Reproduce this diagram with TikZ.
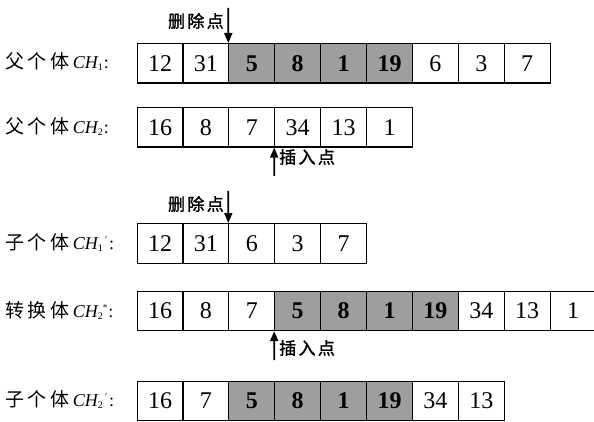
\documentclass[tikz,border=0pt]{standalone}
\usepackage{fontspec}
\setmainfont{Liberation Serif}
\newfontfamily\cjk[LetterSpace=20]{Noto Sans CJK SC}
\newfontfamily\cjkb[LetterSpace=14,FakeBold=1.6]{Noto Sans CJK SC}
\usetikzlibrary{arrows.meta}
\definecolor{c0}{gray}{1}
\definecolor{c1}{gray}{0.62}
\tikzset{
  cell/.style={draw, line width=1.1pt, minimum width=45.9pt, minimum height=39.5pt,
    anchor=north west, inner sep=0pt, font=\fontsize{24}{24}\selectfont},
  lab/.style={anchor=west, inner sep=0pt, font=\fontsize{18}{18}\selectfont},
  ptlab/.style={inner sep=0pt, font=\cjkb\fontsize{17}{17}\selectfont},
  arr/.style={line width=1.8pt, -{Triangle[length=10pt,width=8pt]}}
}
\newcommand\lbl[3]{{\cjk\fontsize{19}{19}\selectfont #1}\hspace{3pt}{\itshape CH}\raisebox{-2pt}{\fontsize{10}{10}\selectfont #2}#3\hspace{1pt}:}
\begin{document}
\begin{tikzpicture}[x=1pt,y=-1pt]
\useasboundingbox (0,0) rectangle (594,422);
\clip (0,0) rectangle (594,422);
% row 1
\node[lab] (l1) at (5,62) {\lbl{父个体}{1}{}};
\foreach \v/\b [count=\i] in {12/0,31/0,5/1,8/1,1/1,19/1,6/0,3/0,7/0}
  \node[cell, fill=c\b] (r1c\i) at ({136.5+(\i-1)*45.9},43) {\ifnum\b=1 \bfseries\fi\v};
% row 2
\node[lab] (l2) at (5,127) {\lbl{父个体}{2}{}};
\foreach \v/\b [count=\i] in {16/0,8/0,7/0,34/0,13/0,1/0}
  \node[cell, fill=c\b] (r2c\i) at ({136.5+(\i-1)*45.9},107) {\v};
% row 3
\node[lab] (l3) at (5,243) {\lbl{子个体}{1}{\textsuperscript{\,\fontsize{9}{9}\selectfont$'$}}};
\foreach \v/\b [count=\i] in {12/0,31/0,6/0,3/0,7/0}
  \node[cell, fill=c\b] (r3c\i) at ({136.5+(\i-1)*45.9},223) {\v};
% row 4
\node[lab] (l4) at (5,310) {\lbl{转换体}{2}{\raisebox{7pt}{\fontsize{9}{9}\selectfont *}}};
\foreach \v/\b [count=\i] in {16/0,8/0,7/0,5/1,8/1,1/1,19/1,34/0,13/0,1/0}
  \node[cell, fill=c\b] (r4c\i) at ({136.5+(\i-1)*45.9},290.5) {\ifnum\b=1 \bfseries\fi\v};
% row 5
\node[lab] (l5) at (5,400) {\lbl{子个体}{2}{\textsuperscript{\,\fontsize{9}{9}\selectfont$'$}}};
\foreach \v/\b [count=\i] in {16/0,7/0,5/1,8/1,1/1,19/1,34/0,13/0}
  \node[cell, fill=c\b] (r5c\i) at ({136.5+(\i-1)*45.9},380.5) {\ifnum\b=1 \bfseries\fi\v};
% deletion / insertion points
\coordinate (d1) at (228.3,8);
\draw[arr] (d1) -- (r1c3.north west);
\node[ptlab, anchor=east] (dl1) at (224,21) {删除点};
\coordinate (i2) at (274.2,176);
\draw[arr] (i2) -- (r2c4.south west);
\node[ptlab, anchor=west] (il2) at (279,157) {插入点};
\coordinate (d3) at (228.3,191);
\draw[arr] (d3) -- (r3c3.north west);
\node[ptlab, anchor=east] (dl3) at (224,204) {删除点};
\coordinate (i4) at (274.2,360);
\draw[arr] (i4) -- (r4c4.south west);
\node[ptlab, anchor=west] (il4) at (279,348) {插入点};
\end{tikzpicture}
\end{document}
